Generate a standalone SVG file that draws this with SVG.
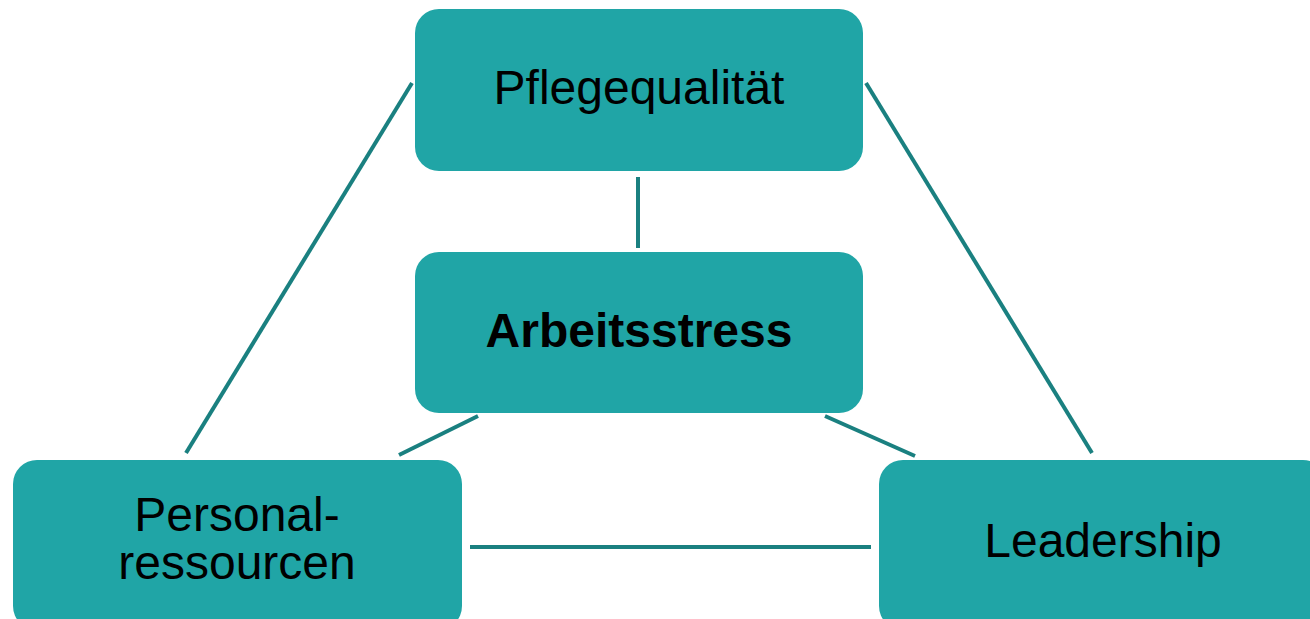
<svg xmlns="http://www.w3.org/2000/svg" width="1310" height="619" viewBox="0 0 1310 619">
<style>
.box{fill:#20a5a6;}
.lbl{font-family:"Liberation Sans",Arial,sans-serif;font-size:48px;fill:#000;text-anchor:middle;}
.b{font-weight:bold;}
.con{stroke:#1a8080;stroke-width:4;fill:none;}
</style>
<rect width="1310" height="619" fill="#fff"/>
<g id="connectors">
<line class="con" x1="638" y1="177" x2="638" y2="248"/>
<line class="con" x1="412" y1="83" x2="186" y2="453"/>
<line class="con" x1="866" y1="83" x2="1092" y2="453"/>
<line class="con" x1="478" y1="416" x2="399" y2="455"/>
<line class="con" x1="825" y1="416" x2="915" y2="456"/>
<line class="con" x1="470" y1="547" x2="871" y2="547"/>
</g>
<g id="pflegequalitaet">
<rect class="box" x="415" y="9" width="448" height="162" rx="24"/>
<text class="lbl" x="639" y="104">Pflegequalität</text>
</g>
<g id="arbeitsstress">
<rect class="box" x="415" y="252" width="448" height="161" rx="24"/>
<text class="lbl b" x="639" y="347">Arbeitsstress</text>
</g>
<g id="personalressourcen">
<rect class="box" x="13" y="460" width="449" height="170" rx="24"/>
<text class="lbl" x="237" y="531">Personal-</text>
<text class="lbl" x="237" y="579">ressourcen</text>
</g>
<g id="leadership">
<rect class="box" x="879" y="460" width="448" height="170" rx="24"/>
<text class="lbl" x="1103" y="557">Leadership</text>
</g>
</svg>
